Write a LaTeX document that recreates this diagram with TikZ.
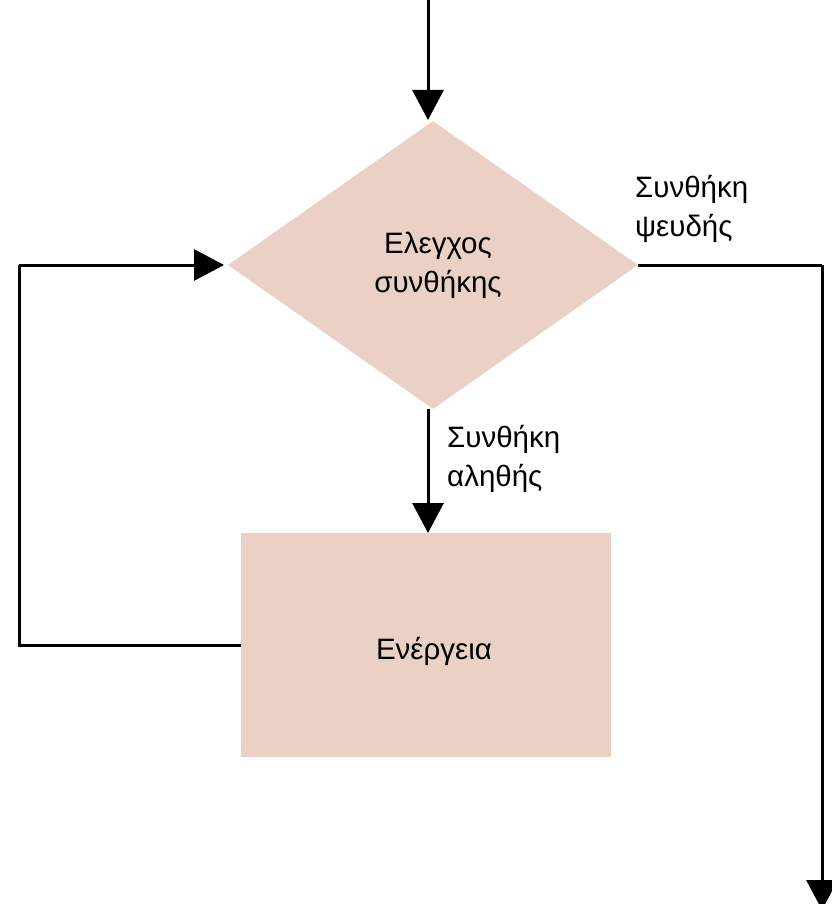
\documentclass[tikz,border=0pt]{standalone}
\usepackage{fontspec}
\setmainfont{Liberation Sans}
\usetikzlibrary{shapes.geometric,arrows.meta}
\definecolor{boxfill}{HTML}{EBD0C5}
\begin{document}
\begin{tikzpicture}[x=1pt,y=-1pt,
  flowline/.style={line width=3pt,-{Triangle[length=30pt,width=31pt]}},
  plainline/.style={line width=3pt},
  lbl/.style={font=\fontsize{29.5}{39}\selectfont,align=left,inner sep=0pt},
  decision/.style={diamond,fill=boxfill,inner sep=0pt,minimum width=410pt,minimum height=288pt},
  action/.style={rectangle,fill=boxfill,inner sep=0pt,minimum width=370pt,minimum height=224pt}]
\useasboundingbox (0,0) rectangle (831,904);
\fill[white] (0,0) rectangle (831,904);
% shapes
\node[decision] (cond) at (433,265) {};
\node[lbl,align=center] (condtxt) at (438,265) {Ελεγχος\\συνθήκης};
\node[action] (act) at (426,645) {};
\node[lbl] (acttxt) at (434,651) {Ενέργεια};
% entry and exit points
\coordinate (start) at (428,0);
\coordinate (loopA) at (19,645);
\coordinate (loopB) at (19,265);
\coordinate (exitA) at (822,265);
\coordinate (exitB) at (822,910);
% connectors
\draw[flowline] (start) -- (428,120);
\draw[flowline] (cond.south -| 428,0) -- (428,533);
\draw[plainline] (act.west |- loopA) -- (loopA) -- (loopB);
\draw[flowline] (loopB) -- (224,265);
\draw[plainline] (cond.east) -- (exitA);
\draw[flowline] (exitA) -- (exitB);
% branch labels
\node[lbl,anchor=north west] (falselbl) at (635,175) {Συνθήκη\\ψευδής};
\node[lbl,anchor=north west] (truelbl) at (447,425) {Συνθήκη\\αληθής};
\end{tikzpicture}
\end{document}
